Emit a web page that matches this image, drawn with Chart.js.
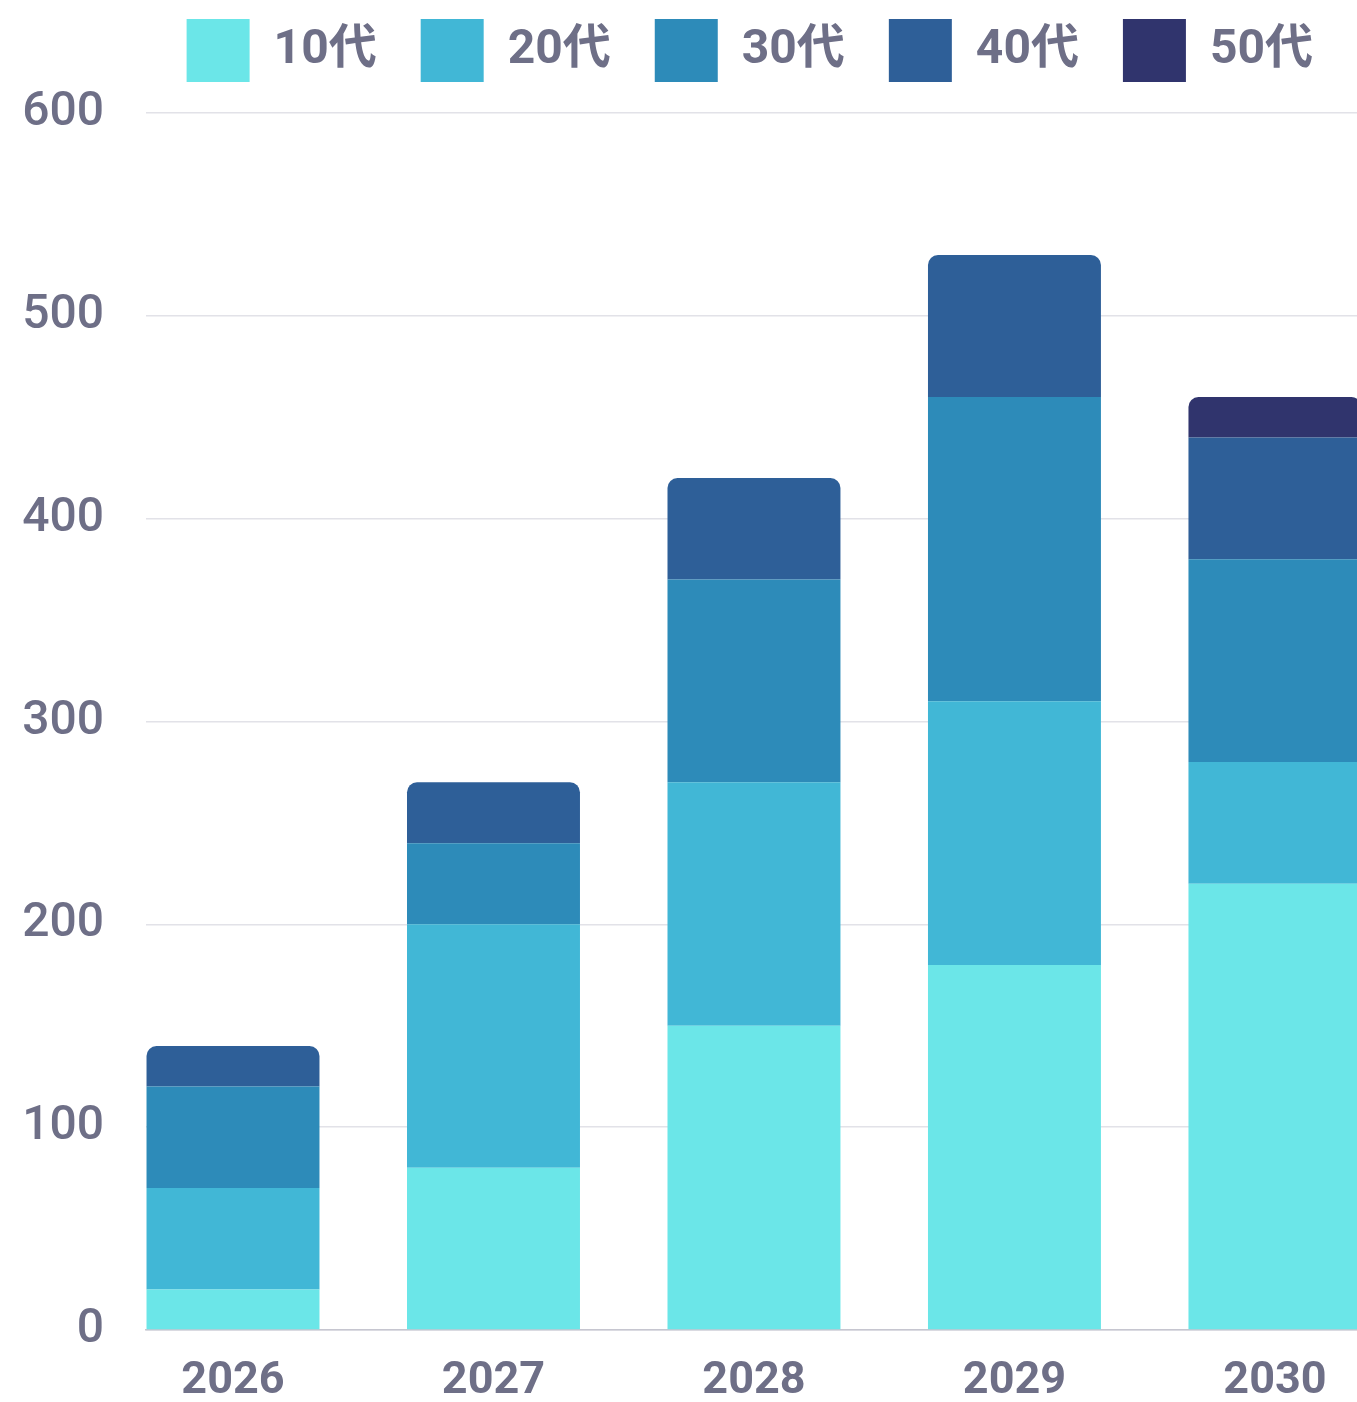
<!DOCTYPE html>
<html>
<head>
<meta charset="utf-8">
<script src="https://cdn.jsdelivr.net/npm/chart.js@4"></script>
<style>
  html, body { margin: 0; padding: 0; background: #fff; overflow: hidden; }
  #wrap { width: 1357px; height: 1402px; }
</style>
</head>
<body>
<div id="wrap"><canvas id="barChart" width="1357" height="1402"></canvas></div>
<script>
// years on a numeric axis so the plot can be trimmed like the original
const years = [2026, 2027, 2028, 2029, 2030];
const seriesNames = ['10代', '20代', '30代', '40代', '50代'];
const teens   = [20, 80, 150, 180, 220];
const twenties = [50, 120, 120, 130, 60];
const thirties = [50, 40, 100, 150, 100];
const forties  = [20, 30, 50, 70, 60];
const fifties  = [0, 0, 0, 0, 20];
const yTicks = [0, 100, 200, 300, 400, 500, 600];

const colors = ['#6be6e8', '#41b7d6', '#2d8bb9', '#2e5f98', '#30346d'];
const textColor = '#6e6f87';
const fontFamily = "Roboto, 'Noto Sans CJK JP', sans-serif";

const values = [teens, twenties, thirties, forties, fifties];

const barChartData = {
  labels: years,
  datasets: seriesNames.map(function (name, i) {
    return {
      label: name,
      data: values[i],
      backgroundColor: colors[i],
      borderRadius: 10,
      borderSkipped: 'start',
      categoryPercentage: 1,
      barPercentage: 0.664,
    };
  }),
};

// leave a bit more room under the legend row
const legendGap = {
  id: 'legendGap',
  beforeUpdate: function (chart) {
    const lg = chart.legend;
    if (lg && !lg._gapPatched) {
      const fit = lg.fit;
      lg.fit = function () {
        fit.call(this);
        this.height += 21;
      };
      lg._gapPatched = true;
    }
  },
};

const barChartConfig = {
  type: 'bar',
  data: barChartData,
  plugins: [legendGap],
  options: {
    responsive: false,
    animation: false,
    layout: { padding: { top: -25, left: 0, right: 0, bottom: 0 } },
    plugins: {
      tooltip: { enabled: false },
      legend: {
        position: 'top',
        align: 'end',
        labels: {
          boxWidth: 63,
          boxHeight: 63,
          padding: 44,
          color: textColor,
          font: { family: fontFamily, size: 48, weight: 'bold' },
        },
      },
    },
    scales: {
      x: {
        type: 'linear',
        offset: false,
        stacked: true,
        min: 2025.666,
        max: 2030.315,
        grid: { display: false, drawTicks: false, offset: false },
        border: { display: true, color: '#c6c6d0', width: 1.5 },
        ticks: {
          stepSize: 1,
          includeBounds: false,
          padding: 25,
          color: textColor,
          font: { family: fontFamily, size: 45, weight: 'bold' },
          callback: function (v) { return years.includes(v) ? String(v) : ''; },
        },
        afterFit: function (scale) { scale.height = 72; },
      },
      y: {
        stacked: true,
        min: yTicks[0],
        max: yTicks[yTicks.length - 1],
        grid: { color: '#e2e2e8', lineWidth: 1.5, drawTicks: false },
        border: { display: false },
        ticks: {
          stepSize: 100,
          padding: 42,
          color: textColor,
          font: { family: fontFamily, size: 48, weight: 500 },
        },
        afterFit: function (scale) {
          scale.width = 146;
          scale.paddingTop = 113;
        },
      },
    },
  },
};

const barChartCanvas = document.getElementById('barChart').getContext('2d');
new Chart(barChartCanvas, barChartConfig);
</script>
</body>
</html>
